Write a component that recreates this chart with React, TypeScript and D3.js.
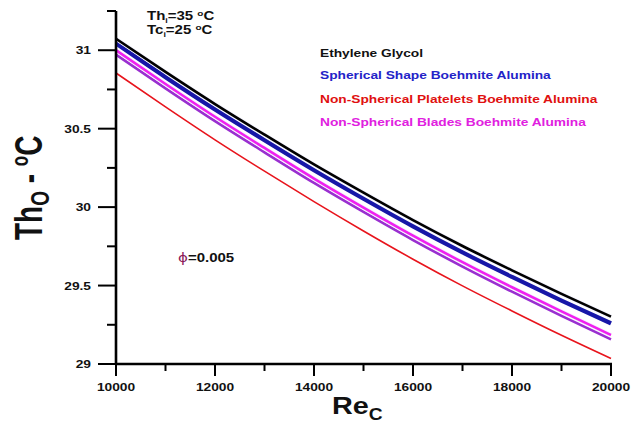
import React from "react";
import * as d3 from "d3";

const reynolds = [10000, 11000, 12000, 13000, 14000, 15000, 16000, 17000, 18000, 19000, 20000];
const ethyleneGlycol = [31.073, 30.862, 30.657, 30.462, 30.272, 30.092, 29.917, 29.752, 29.597, 29.447, 29.302];
const spherical = [31.043, 30.828, 30.622, 30.426, 30.235, 30.053, 29.877, 29.711, 29.555, 29.404, 29.259];
const blades = [31.0, 30.785, 30.576, 30.377, 30.182, 29.997, 29.818, 29.649, 29.489, 29.335, 29.185];
const bladesB = [30.972, 30.757, 30.548, 30.349, 30.154, 29.969, 29.79, 29.621, 29.461, 29.307, 29.157];
const platelets = [30.855, 30.639, 30.429, 30.229, 30.035, 29.848, 29.668, 29.498, 29.338, 29.183, 29.035];

const xMajorTicks = [10000, 12000, 14000, 16000, 18000, 20000];
const xMinorTicks = [11000, 13000, 15000, 17000, 19000];
const yMajorTicks = [29, 29.5, 30, 30.5, 31];
const yMinorTicks = [29.25, 29.75, 30.25, 30.75, 31.25];

const legendLabels = [
  "Ethylene Glycol",
  "Spherical Shape Boehmite Alumina",
  "Non-Spherical Platelets Boehmite Alumina",
  "Non-Spherical Blades Boehmite Alumina",
];

const W = 635;
const H = 425;
const SX = 1.25;
const FONT = "'Liberation Sans', Arial, sans-serif";

const x = d3.scaleLinear().domain([10000, 20000]).range([116, 611]);
const y = d3.scaleLinear().domain([29, 31.25]).range([364, 11]);

const line = d3
  .line<number>()
  .x((_, i) => x(reynolds[i]))
  .y((d) => y(d))
  .curve(d3.curveMonotoneX);

function SText(props: {
  x: number;
  y: number;
  size: number;
  fill?: string;
  anchor?: string;
  sx?: number;
  children: React.ReactNode;
}) {
  const { x: tx, y: ty, size, fill = "#111", anchor = "start", sx = SX, children } = props;
  return (
    <text
      transform={`translate(${tx},${ty}) scale(${sx},1)`}
      fontFamily={FONT}
      fontWeight="bold"
      fontSize={size}
      fill={fill}
      textAnchor={anchor}
    >
      {children}
    </text>
  );
}

export default function App() {
  const series = [
    { data: platelets, color: "#e8141c", width: 1.6, halo: false },
    { data: bladesB, color: "#9a2fd0", width: 2.6, halo: false },
    { data: blades, color: "#f020f0", width: 2.6, halo: true },
    { data: spherical, color: "#1717a8", width: 4.2, halo: false },
    { data: ethyleneGlycol, color: "#000000", width: 2.6, halo: true },
  ];
  const legendColors = ["#111111", "#2323c8", "#e01010", "#e020e0"];
  const legendY = [57, 79, 103, 126];

  return (
    <svg
      width={W}
      height={H}
      style={{ position: "absolute", left: 0, top: 0, background: "#fff" }}
    >
      <rect width={W} height={H} fill="#fff" />
      {series.map((s, i) => (
        <g key={i}>
          {s.halo && (
            <path d={line(s.data) || ""} fill="none" stroke="#f4f4ff" strokeWidth={s.width + 1.6} />
          )}
          <path d={line(s.data) || ""} fill="none" stroke={s.color} strokeWidth={s.width} />
        </g>
      ))}

      {/* axes */}
      <line x1={x(10000)} x2={x(10000)} y1={y(31.25)} y2={y(29) + 1} stroke="#000" strokeWidth={2.6} />
      <line x1={x(10000) - 1} x2={x(20000) + 1} y1={y(29)} y2={y(29)} stroke="#000" strokeWidth={2.4} />
      {yMajorTicks.map((t) => (
        <line key={"ym" + t} x1={x(10000) - 18} x2={x(10000)} y1={y(t)} y2={y(t)} stroke="#000" strokeWidth={2} />
      ))}
      {yMinorTicks.map((t) => (
        <line key={"yn" + t} x1={x(10000) - 9} x2={x(10000)} y1={y(t)} y2={y(t)} stroke="#000" strokeWidth={2} />
      ))}
      {xMajorTicks.map((t) => (
        <line key={"xm" + t} x1={x(t)} x2={x(t)} y1={y(29)} y2={y(29) + 12} stroke="#000" strokeWidth={2} />
      ))}
      {xMinorTicks.map((t) => (
        <line key={"xn" + t} x1={x(t)} x2={x(t)} y1={y(29)} y2={y(29) + 7} stroke="#000" strokeWidth={2} />
      ))}

      {yMajorTicks.map((t) => (
        <SText key={"yl" + t} x={91} y={y(t) + 4} size={11} anchor="end">
          {d3.format("")(t)}
        </SText>
      ))}
      {xMajorTicks.map((t) => (
        <SText key={"xl" + t} x={x(t)} y={391} size={11} anchor="middle">
          {String(t)}
        </SText>
      ))}

      {/* axis titles */}
      <g transform="translate(42,240) rotate(-90) scale(1,1.4)">
        <text fontFamily={FONT} fontWeight="bold" fontSize={28} fill="#111">
          Th
          <tspan fontSize={19} dy={5}>O</tspan>
          <tspan dy={-5}> - </tspan>
          <tspan fontSize={17} dy={-10}>o</tspan>
          <tspan dy={10}>C</tspan>
        </text>
      </g>
      <SText x={332} y={414} size={24} sx={1.2}>
        Re
        <tspan fontSize={16} dy={6}>C</tspan>
      </SText>

      {/* annotations */}
      <SText x={147} y={20} size={12}>
        Th<tspan fontSize={7} dy={3}>i</tspan>
        <tspan dy={-3}>=35 </tspan>
        <tspan fontSize={8} dy={-4}>o</tspan>
        <tspan dy={4}>C</tspan>
      </SText>
      <SText x={147} y={34} size={12}>
        Tc<tspan fontSize={7} dy={3}>i</tspan>
        <tspan dy={-3}>=25 </tspan>
        <tspan fontSize={8} dy={-4}>o</tspan>
        <tspan dy={4}>C</tspan>
      </SText>
      <SText x={178} y={262} size={12}>
        <tspan fill="#8b1a5a" fontFamily="'DejaVu Sans', sans-serif" fontWeight="normal">ϕ</tspan>=0.005
      </SText>

      {legendLabels.map((l, i) => (
        <SText key={l} x={320} y={legendY[i]} size={11} fill={legendColors[i]}>
          {l}
        </SText>
      ))}
    </svg>
  );
}
